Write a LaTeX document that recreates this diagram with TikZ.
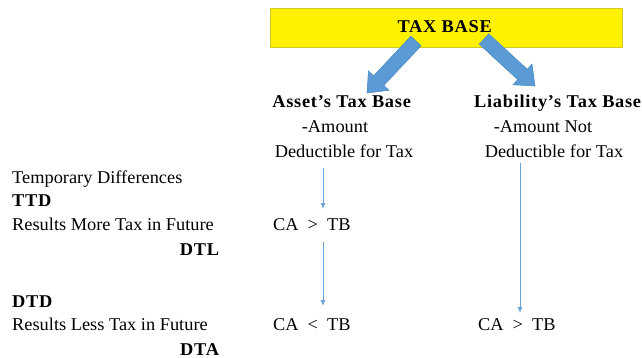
\documentclass[tikz,border=0pt]{standalone}
\usepackage{fontspec}
\setmainfont{Liberation Serif}[FakeStretch=1.02,BoldFeatures={LetterSpace=4}]
\usetikzlibrary{calc,arrows.meta}
\definecolor{ablue}{HTML}{5B9BD5}
\definecolor{aborder}{HTML}{4F8CC4}
\definecolor{thinblue}{HTML}{6AA3D8}
\begin{document}
\begin{tikzpicture}[x=1pt,y=-1pt,font=\fontsize{18}{21}\selectfont,
  txt/.style={inner sep=0pt,anchor=base},
  txtw/.style={inner sep=0pt,anchor=base west},
  txte/.style={inner sep=0pt,anchor=base east},
  thinarrow/.style={draw=thinblue,line width=0.9pt,-{Latex[length=6pt,width=5pt]}},
  blockarrow/.style={fill=ablue,draw=aborder,line width=0.6pt,line join=miter}]
\useasboundingbox (0,0) rectangle (642,358);
% yellow title box
\node[fill=yellow,draw=yellow!80!black,line width=0.4pt,minimum width=352pt,minimum height=39pt,inner sep=0pt,anchor=north west] (box) at (270,8) {};
% block arrows
\coordinate (lt) at (416,41); \coordinate (lp) at (367,93);
\coordinate (lh) at ($(lp)!17pt!(lt)$);
\filldraw[blockarrow] ($(lt)!7pt!90:(lp)$) -- ($(lh)!7pt!90:(lp)$) -- ($(lh)!14pt!90:(lp)$) -- (lp)
  -- ($(lh)!14pt!-90:(lp)$) -- ($(lh)!7pt!-90:(lp)$) -- ($(lt)!7pt!-90:(lp)$) -- cycle;
\coordinate (rt) at (484,39); \coordinate (rp) at (535,86);
\coordinate (rh) at ($(rp)!17pt!(rt)$);
\filldraw[blockarrow] ($(rt)!7pt!90:(rp)$) -- ($(rh)!7pt!90:(rp)$) -- ($(rh)!14pt!90:(rp)$) -- (rp)
  -- ($(rh)!14pt!-90:(rp)$) -- ($(rh)!7pt!-90:(rp)$) -- ($(rt)!7pt!-90:(rp)$) -- cycle;
% title
\node[txt] (title) at (445,33) {\textbf{TAX BASE}};
% headers
\node[txt] (assetH) at (342,108) {\textbf{Asset's Tax Base}};
\node[txt] (liabH) at (558,108) {\textbf{Liability's Tax Base}};
\node[txt] (amtA) at (335,133) {-Amount};
\node[txt] (dedA) at (344,158) {Deductible for Tax};
\node[txt] (amtL) at (543,133) {-Amount Not};
\node[txt] (dedL) at (554,158) {Deductible for Tax};
% left column
\node[txtw] (temp) at (12,183) {Temporary Differences};
\node[txtw] (ttd) at (12,207) {\textbf{TTD}};
\node[txtw] (more) at (12,230) {Results More Tax in Future};
\node[txte] (dtl) at (220,255) {\textbf{DTL}};
\node[txtw] (dtd) at (12,307) {\textbf{DTD}};
\node[txtw] (less) at (12,330) {Results Less Tax in Future};
\node[txte] (dta) at (220,355) {\textbf{DTA}};
% comparisons
\node[txtw] (c1) at (273,230) {CA\hspace{9pt}>\hspace{9pt}TB};
\node[txtw] (c2) at (273,330) {CA\hspace{9pt}<\hspace{9pt}TB};
\node[txtw] (c3) at (478,330) {CA\hspace{9pt}>\hspace{9pt}TB};
% thin arrows
\coordinate (a1s) at (323,168); \coordinate (a1e) at (323,209);
\coordinate (a2s) at (323,242); \coordinate (a2e) at (323,306);
\coordinate (a3s) at (520,163); \coordinate (a3e) at (520,313);
\draw[thinarrow] (a1s) -- (a1e);
\draw[thinarrow] (a2s) -- (a2e);
\draw[thinarrow] (a3s) -- (a3e);
\end{tikzpicture}
\end{document}
